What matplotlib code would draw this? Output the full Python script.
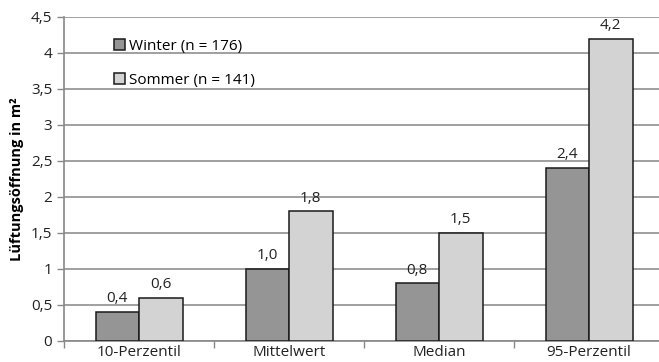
import numpy as np
import matplotlib
matplotlib.use("Agg")
import matplotlib.pyplot as plt
from matplotlib.ticker import FuncFormatter, FixedLocator

plt.rcParams['font.family'] = ['Open Sans', 'DejaVu Sans']

categories = ['10-Perzentil', 'Mittelwert', 'Median', '95-Perzentil']
winter = [0.4, 1.0, 0.8, 2.4]
sommer = [0.6, 1.8, 1.5, 4.2]
winter_labels = ['0,4', '1,0', '0,8', '2,4']
sommer_labels = ['0,6', '1,8', '1,5', '4,2']
yticks = [0, 0.5, 1, 1.5, 2, 2.5, 3, 3.5, 4, 4.5]

fig = plt.figure(figsize=(6.59, 3.62), dpi=100)
ax = fig.add_axes([64/659, 21/362, 600/659, 324/362])

x = np.arange(len(categories))
w = 0.29
b1 = ax.bar(x - w/2, winter, w, color='#959595', edgecolor='#1a1a1a', linewidth=1.1,
            label='Winter (n = 176)', zorder=3)
b2 = ax.bar(x + w/2, sommer, w, color='#d3d3d3', edgecolor='#1a1a1a', linewidth=1.1,
            label='Sommer (n = 141)', zorder=3)

# value labels above bars
for rect, lab in zip(b1, winter_labels):
    ax.text(rect.get_x() + rect.get_width()/2, rect.get_height() + 0.08, lab,
            ha='center', va='bottom', fontsize=11, color='#222222')
for rect, lab in zip(b2, sommer_labels):
    ax.text(rect.get_x() + rect.get_width()/2, rect.get_height() + 0.08, lab,
            ha='center', va='bottom', fontsize=11, color='#222222')

ax.set_xlim(-0.5, 3.5)
ax.set_ylim(0, 4.5)
ax.set_yticks(yticks)
ax.yaxis.set_major_formatter(FuncFormatter(lambda v, p: ('%g' % v).replace('.', ',')))
ax.set_xticks(x)
ax.set_xticklabels(categories)
ax.xaxis.set_minor_locator(FixedLocator([-0.5, 0.5, 1.5, 2.5]))
ax.tick_params(axis='x', which='major', length=0, pad=3, labelsize=11, colors='#222222')
ax.tick_params(axis='x', which='minor', length=5, width=1, color='#888888')
ax.tick_params(axis='y', length=5, width=1, color='#888888', labelsize=11, labelcolor='#222222')

ax.grid(axis='y', color='#a0a0a0', linewidth=1.4, zorder=0)
for s in ['top', 'right']:
    ax.spines[s].set_visible(False)
for s in ['left', 'bottom']:
    ax.spines[s].set_color('#888888')
    ax.spines[s].set_linewidth(1.2)

ax.set_ylabel('Lüftungsöffnung in m²', fontsize=10.5, fontweight='bold', labelpad=5)

leg = ax.legend(loc='upper left', bbox_to_anchor=(0.06, 0.975), frameon=False,
                handlelength=0.75, handleheight=0.75, handletextpad=0.25,
                labelspacing=1.25, fontsize=11)

fig.savefig('out.png', dpi=100)
